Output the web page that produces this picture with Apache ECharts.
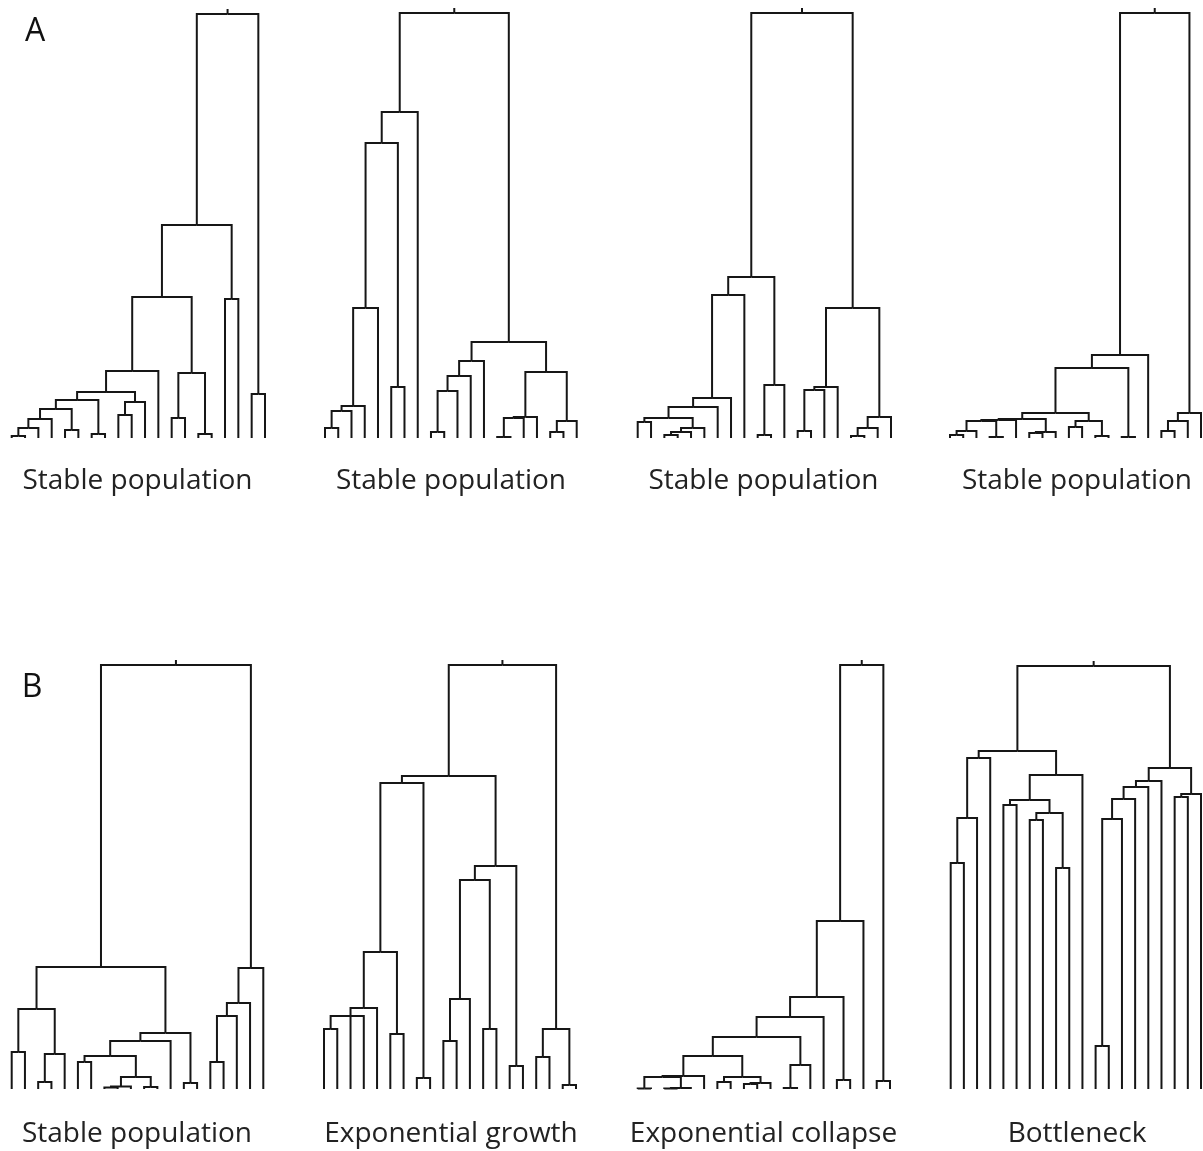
<!DOCTYPE html>
<html><head><meta charset="utf-8">
<script src="https://cdn.jsdelivr.net/npm/echarts@6/dist/echarts.min.js"></script>
<style>html,body{margin:0;padding:0;background:#fff}#c{width:1203px;height:1151px}</style>
</head><body><div id="c"></div>
<script>
// ---- DATA: coalescent trees, 20 sampled lineages each ----
// each row: [child, child, (child), coalescence time]; leaves 0-19, "nK" = K-th merge
const treeA1 = [
  [0,1,2],['n0',2,10],['n1',3,19],[4,5,8],['n2','n3',29],[6,7,4],['n4','n5',38],
  [8,9,23],['n7',10,36],['n6','n8',46],['n9',11,67],[12,13,20],[14,15,4],
  ['n11','n12',65],['n10','n13',141],[16,17,139],['n14','n15',213],[18,19,44],['n16','n17',424]
];
const treeA2 = [
  [0,1,10],['n0',2,27],['n1',3,32],['n2',4,130],[5,6,51],['n3','n4',295],['n5',7,326],
  [8,9,6],['n7',10,47],['n8',11,62],['n9',12,77],[13,14,1],['n11',15,20],['n12',16,21],
  [17,18,6],['n14',19,17],['n13','n15',66],['n10','n16',96],['n6','n17',425]
];
const treeA3 = [
  [0,1,16],[2,3,3],['n1',4,6],['n2',5,10],['n0','n3',20],['n4',6,31],['n5',7,40],
  ['n6',8,143],[9,10,3],['n8',11,53],['n7','n9',161],[12,13,7],['n11',14,48],['n12',15,51],
  [16,17,2],['n14',18,10],['n15',19,21],['n13','n16',130],['n10','n17',425]
];
const treeA4 = [
  [0,1,3],['n0',2,7],[3,4,1],['n1','n2',17],['n3',5,18],[6,7,5],['n5',8,6],['n4','n6',19],
  [9,10,11],[11,12,2],['n8','n9',17],['n7','n10',25],[13,14,1],['n11','n12',70],['n13',15,83],
  [16,17,7],['n15',18,17],['n16',19,25],['n14','n17',425]
];
const treeB1 = [
  [0,1,37],[2,3,7],['n1',4,35],['n0','n2',80],[5,6,27],[7,8,1.5],['n5',9,2.5],[10,11,2],
  ['n6','n7',12],['n4','n8',33],['n9',12,48],[13,14,6],['n10','n11',56],['n3','n12',122],
  [15,16,27],['n14',17,73],['n15',18,86],['n16',19,121],['n13','n17',424]
];
const treeB2 = [
  [0,1,60],['n0',2,3,73],['n1',4,81],[5,6,55],['n2','n3',137],[7,8,11],['n4','n5',306],
  [9,10,48],['n7',11,90],[12,13,60],['n8','n9',209],[14,15,23],['n10','n11',223],
  ['n6','n12',313],[16,17,32],[18,19,4],['n14','n15',60],['n13','n16',424]
];
const treeB3 = [
  [0,1,0.5],[2,3,0.5],['n1',4,1],['n0','n2',12],['n3',5,13],[6,7,7],[8,9,5],['n6',10,6],
  ['n5','n7',12],['n4','n8',33],[11,12,1],['n10',13,24],['n9','n11',52],['n12',14,72],
  [15,16,9],['n13','n14',92],['n15',17,168],[18,19,8],['n16','n17',424]
];
const treeB4 = [
  [0,1,226],['n0',2,271],['n1',3,331],[4,5,284],[6,7,269],[8,9,221],['n4','n5',276],
  ['n3','n6',289],['n7',10,314],['n2','n8',338],[11,12,43],['n10',13,270],['n11',14,290],
  ['n12',15,302],['n13',16,308],[17,18,292],['n15',19,295],['n14','n16',321],['n9','n17',423]
];
const panelLetters = ['A', 'B'];
const treeTitles = ['Stable population','Stable population','Stable population','Stable population',
  'Stable population','Exponential growth','Exponential collapse','Bottleneck'];
const LEAVES = 20;

// ---- LAYOUT ----
const trees = [treeA1, treeA2, treeA3, treeA4, treeB1, treeB2, treeB3, treeB4];
const panels = [
  {x0: 11.7, x1: 265, base: 438}, {x0: 325, x1: 576.7, base: 438},
  {x0: 637.7, x1: 891, base: 438}, {x0: 950, x1: 1201, base: 438},
  {x0: 11.7, x1: 263.3, base: 1089}, {x0: 324, x1: 576, base: 1089},
  {x0: 637.7, x1: 890, base: 1089}, {x0: 950.7, x1: 1201, base: 1089}
];
const titleCenters = [137.5, 451, 763.5, 1077, 137, 451, 763.5, 1077];
const YMAX = 430, STEM = 5;
const titleY = [481, 1134];
const letterPos = [[35, 32], [32, 688]];
const FONT = '"Open Sans", "Liberation Sans", sans-serif';

function branches(merges) {
  const x = {}, h = {};
  for (let i = 0; i < LEAVES; i++) { x[i] = i; h[i] = 0; }
  const out = [];
  merges.forEach((m, k) => {
    const kids = m.slice(0, -1), ht = m[m.length - 1];
    const xs = kids.map(c => x[c]).sort((a, b) => a - b);
    const nx = xs.length % 2 ? xs[(xs.length - 1) / 2] : (xs[0] + xs[xs.length - 1]) / 2;
    kids.forEach(c => out.push([x[c], h[c], nx, ht]));
    x['n' + k] = nx; h['n' + k] = ht;
  });
  const r = 'n' + (merges.length - 1);
  out.push([x[r], h[r], x[r], h[r] + STEM]);
  return out;
}

const grid = [], xAxis = [], yAxis = [], series = [], graphic = [];
panels.forEach((p, i) => {
  grid.push({left: p.x0, width: p.x1 - p.x0, top: p.base - YMAX, height: YMAX});
  xAxis.push({type: 'value', gridIndex: i, min: 0, max: LEAVES - 1, show: false});
  yAxis.push({type: 'value', gridIndex: i, min: 0, max: YMAX, show: false});
  series.push({
    type: 'custom', xAxisIndex: i, yAxisIndex: i, clip: false, silent: true,
    data: branches(trees[i]),
    renderItem: function (params, api) {
      const a = api.coord([api.value(0), api.value(1)]);
      const b = api.coord([api.value(0), api.value(3)]);
      const c = api.coord([api.value(2), api.value(3)]);
      return {type: 'polyline', shape: {points: [a, b, c]},
        style: {stroke: '#161616', lineWidth: 2, fill: 'none', lineJoin: 'miter'}};
    }
  });
  graphic.push({type: 'text', x: titleCenters[i], y: titleY[i < 4 ? 0 : 1],
    style: {text: treeTitles[i], fontSize: 28, fontFamily: FONT, fill: '#222',
      align: 'center', verticalAlign: 'middle'}});
});
panelLetters.forEach((t, i) => {
  graphic.push({type: 'text', x: letterPos[i][0], y: letterPos[i][1],
    style: {text: t, fontSize: 32, fontFamily: FONT, fill: '#111', align: 'center', verticalAlign: 'middle'}});
});

const chart = echarts.init(document.getElementById('c'), null, {renderer: 'canvas'});
chart.setOption({animation: false, backgroundColor: '#fff', grid, xAxis, yAxis, series, graphic});
</script></body></html>
